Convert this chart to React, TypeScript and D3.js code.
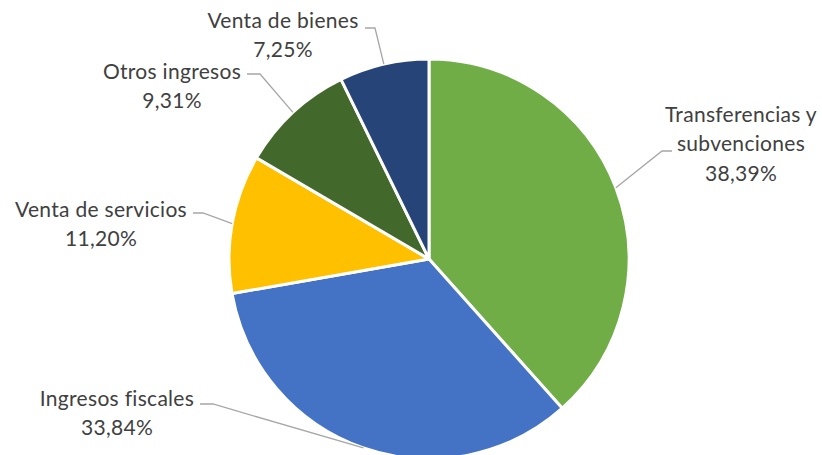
import React from 'react';
import * as d3 from 'd3';

const categories = ['Transferencias y subvenciones', 'Ingresos fiscales', 'Venta de servicios', 'Otros ingresos', 'Venta de bienes'];
const values = [38.39, 33.84, 11.2, 9.31, 7.25];
const colors = ['#70AD47', '#4472C4', '#FFC000', '#43682B', '#264478'];
const labelLines = [
    ['Transferencias y', 'subvenciones', '38,39%'],
    ['Ingresos fiscales', '33,84%'],
    ['Venta de servicios', '11,20%'],
    ['Otros ingresos', '9,31%'],
    ['Venta de bienes', '7,25%'],
];

// label placement: text center x, first line y, elbow of the leader line, end of horizontal
const labelPos = [
    { x: 741, y: 113, elbow: [662, 151], end: [672, 151] },
    { x: 117, y: 397, elbow: [213, 404], end: [200, 404] },
    { x: 101, y: 208, elbow: [203, 213], end: [193, 213] },
    { x: 172, y: 70, elbow: [260, 74], end: [247, 74] },
    { x: 283, y: 19, elbow: [375, 28], end: [365, 28] },
];

const width = 822;
const height = 455;
const cx = 429;
const cy = 259;
const radius = 200;

const App = () => {
    const pie = d3.pie<number>().sort(null).value(d => d);
    const arcs = pie(values);
    const arc = d3.arc<d3.PieArcDatum<number>>().innerRadius(0).outerRadius(radius);

    return (
        <svg width={width} height={height} style={{ position: 'absolute', left: 0, top: 0 }}
            fontFamily="Lato, 'Open Sans', sans-serif">
            <rect width={width} height={height} fill="#fff" />
            <g transform={`translate(${cx},${cy})`}>
                {arcs.map((a, i) => (
                    <path key={categories[i]} d={arc(a) || ''} fill={colors[i]} stroke="#fff" strokeWidth={3} strokeLinejoin="round" />
                ))}
            </g>
            {arcs.map((a, i) => {
                const mid = (a.startAngle + a.endAngle) / 2;
                const px = cx + radius * Math.sin(mid);
                const py = cy - radius * Math.cos(mid);
                const p = labelPos[i];
                return (
                    <polyline key={'l' + i} fill="none" stroke="#A6A6A6" strokeWidth={1.3}
                        points={`${px},${py} ${p.elbow[0]},${p.elbow[1]} ${p.end[0]},${p.end[1]}`} />
                );
            })}
            {labelLines.map((lines, i) => (
                <text key={'t' + i} x={labelPos[i].x} textAnchor="middle" fill="#404040" fontSize={21} letterSpacing={0.3}>
                    {lines.map((s, j) => (
                        <tspan key={j} x={labelPos[i].x} y={labelPos[i].y + j * 29.5} dominantBaseline="central">{s}</tspan>
                    ))}
                </text>
            ))}
        </svg>
    );
};

export default App;
